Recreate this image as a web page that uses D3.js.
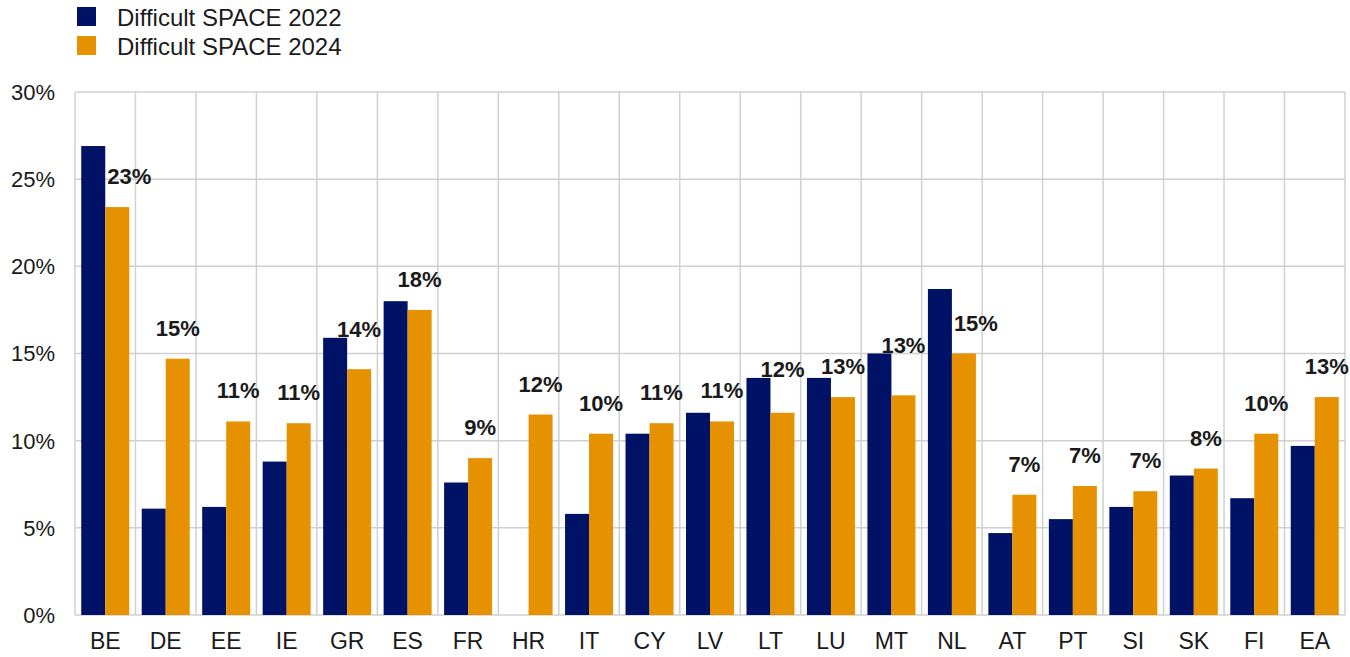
<!DOCTYPE html>
<html>
<head>
<meta charset="utf-8">
<script src="https://cdn.jsdelivr.net/npm/d3@7"></script>
<style>
  body { margin: 0; background: #fff; }
  text { font-family: Arial, "Liberation Sans", sans-serif; }
</style>
</head>
<body>
<div id="chart"></div>
<script>
// Countries on the x axis
var countries = ["BE", "DE", "EE", "IE", "GR", "ES", "FR", "HR", "IT", "CY", "LV",
  "LT", "LU", "MT", "NL", "AT", "PT", "SI", "SK", "FI", "EA"];

// Share of firms reporting difficult SPACE conditions (%)
var space2022 = [26.9, 6.1, 6.2, 8.8, 15.9, 18.0, 7.6, null, 5.8, 10.4, 11.6,
  13.6, 13.6, 15.0, 18.7, 4.7, 5.5, 6.2, 8.0, 6.7, 9.7];
var space2024 = [23.4, 14.7, 11.1, 11.0, 14.1, 17.5, 9.0, 11.5, 10.4, 11.0, 11.1,
  11.6, 12.5, 12.6, 15.0, 6.9, 7.4, 7.1, 8.4, 10.4, 12.5];

var seriesNames = ["Difficult SPACE 2022", "Difficult SPACE 2024"];
var yTicks = [0, 5, 10, 15, 20, 25, 30];

var colors = ["#001265", "#e69200"];

var w = 1350;
var h = 657;
var margin = { top: 92, right: 5, bottom: 42, left: 75 };

var svg = d3
  .select("#chart")
  .append("svg")
  .attr("width", w)
  .attr("height", h);

var data = countries.map(function (c, i) {
  return { country: c, values: [space2022[i], space2024[i]] };
});

var xScale = d3
  .scaleBand()
  .domain(countries)
  .range([margin.left, w - margin.right])
  .padding(0);

var xInner = d3
  .scaleBand()
  .domain([0, 1])
  .range([0, xScale.bandwidth()])
  .paddingInner(0)
  .paddingOuter(0.26);

var yScale = d3
  .scaleLinear()
  .domain([0, 30])
  .range([h - margin.bottom, margin.top]);

// Grid: horizontal lines at each tick
svg
  .append("g")
  .selectAll("line")
  .data(yTicks)
  .enter()
  .append("line")
  .attr("x1", margin.left)
  .attr("x2", w - margin.right)
  .attr("y1", function (d) { return yScale(d); })
  .attr("y2", function (d) { return yScale(d); })
  .attr("stroke", "#d0d0d0")
  .attr("stroke-width", 1.5);

// Grid: vertical lines at each category boundary
var bounds = countries.map(function (c) { return xScale(c); });
bounds.push(xScale(countries[countries.length - 1]) + xScale.bandwidth());
svg
  .append("g")
  .selectAll("line")
  .data(bounds)
  .enter()
  .append("line")
  .attr("x1", function (d) { return d; })
  .attr("x2", function (d) { return d; })
  .attr("y1", yScale(30))
  .attr("y2", yScale(0))
  .attr("stroke", "#d0d0d0")
  .attr("stroke-width", 1.5);

// Bars
var groups = svg
  .append("g")
  .selectAll("g")
  .data(data)
  .enter()
  .append("g")
  .attr("transform", function (d) {
    return "translate(" + xScale(d.country) + ",0)";
  });

groups
  .selectAll("rect")
  .data(function (d) {
    return d.values
      .map(function (v, k) { return { k: k, v: v }; })
      .filter(function (e) { return e.v != null; });
  })
  .enter()
  .append("rect")
  .attr("x", function (d) { return xInner(d.k); })
  .attr("y", function (d) { return yScale(d.v); })
  .attr("width", xInner.bandwidth())
  .attr("height", function (d) { return yScale(0) - yScale(d.v); })
  .attr("fill", function (d) { return colors[d.k]; });

// Data labels for 2024, nudged when the taller 2022 bar is in the way
svg
  .append("g")
  .selectAll("text")
  .data(data)
  .enter()
  .append("text")
  .attr("text-anchor", "middle")
  .style("font-size", "22px")
  .style("font-weight", "bold")
  .attr("fill", "#1a1a1a")
  .each(function (d) {
    var v22 = d.values[0];
    var v24 = d.values[1];
    var cx = xScale(d.country) + xInner(1) + xInner.bandwidth() / 2;
    var base = yScale(v24) - 23;
    var navyTop = v22 == null ? yScale(0) : yScale(v22);
    var dx = 0;
    var ly = base;
    if (navyTop < base + 1) {
      if (navyTop < base - 30) dx = 12;
      else ly = navyTop - 1;
    }
    d3.select(this)
      .attr("x", cx + dx)
      .attr("y", ly)
      .text(Math.round(v24) + "%");
  });

// Y axis labels
svg
  .append("g")
  .selectAll("text")
  .data(yTicks)
  .enter()
  .append("text")
  .attr("x", margin.left - 20)
  .attr("y", function (d) { return yScale(d); })
  .attr("dy", "0.36em")
  .attr("text-anchor", "end")
  .style("font-size", "22px")
  .attr("fill", "#1a1a1a")
  .text(function (d) { return d + "%"; });

// X axis labels
svg
  .append("g")
  .selectAll("text")
  .data(countries)
  .enter()
  .append("text")
  .attr("x", function (d) { return xScale(d) + xScale.bandwidth() / 2; })
  .attr("y", yScale(0) + 34)
  .attr("text-anchor", "middle")
  .style("font-size", "23px")
  .attr("fill", "#1a1a1a")
  .text(function (d) { return d; });

// Legend
var legend = svg
  .append("g")
  .selectAll("g")
  .data(seriesNames)
  .enter()
  .append("g")
  .attr("transform", function (d, i) {
    return "translate(77," + (7 + i * 29) + ")";
  });

legend
  .append("rect")
  .attr("width", 19)
  .attr("height", 19)
  .attr("fill", function (d, i) { return colors[i]; });

legend
  .append("text")
  .attr("x", 40)
  .attr("y", 10)
  .attr("dy", "0.36em")
  .style("font-size", "24px")
  .attr("fill", "#1a1a1a")
  .text(function (d) { return d; });
</script>
</body>
</html>
